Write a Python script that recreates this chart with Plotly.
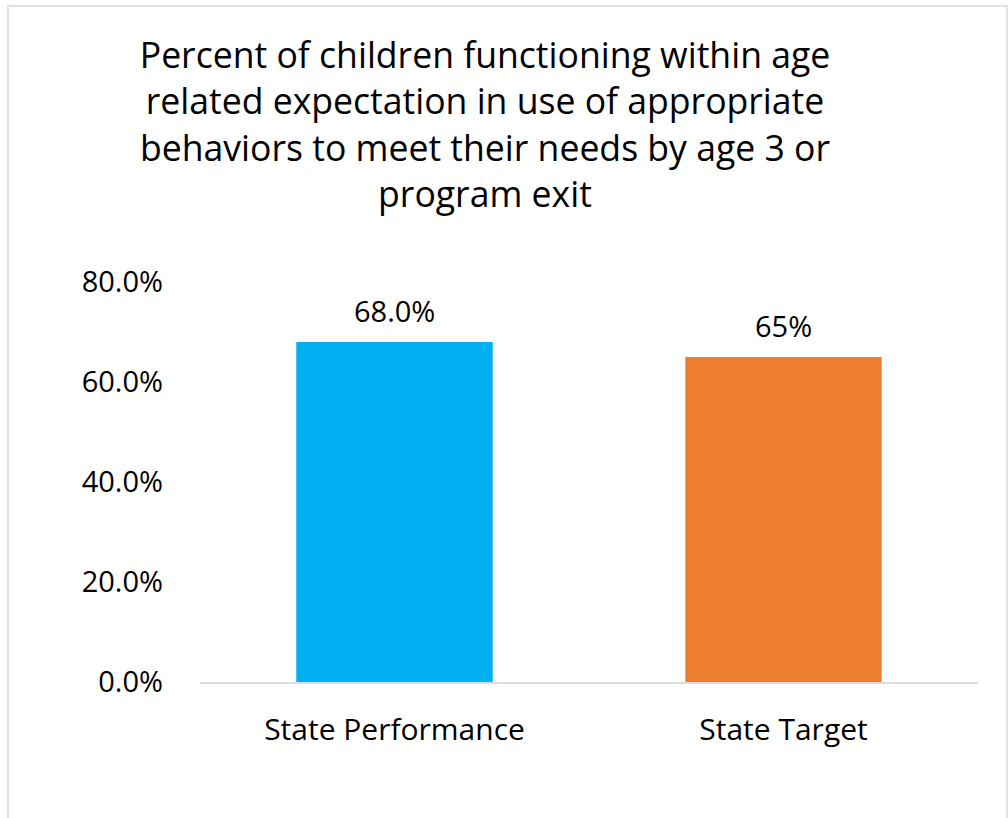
import plotly.graph_objects as go

categories = ["State Performance", "State Target"]
values = [0.68, 0.65]
value_labels = ["68.0%", "65%"]
bar_colors = ["#00B0F0", "#ED7D31"]
y_ticks = [0.0, 0.2, 0.4, 0.6, 0.8]
y_tick_labels = ["0.0%", "20.0%", "40.0%", "60.0%", "80.0%"]

title_text = ("Percent of children functioning within age<br>"
              "related expectation in use of appropriate<br>"
              "behaviors to meet their needs by age 3 or<br>"
              "program exit")

font_family = "Open Sans"

fig = go.Figure(
    go.Bar(
        x=categories,
        y=values,
        marker=dict(color=bar_colors, line=dict(width=0)),
        width=0.505,
        hoverinfo="skip",
    )
)

# value labels above the bars, a little further off than plotly's default
for cat, val, label in zip(categories, values, value_labels):
    fig.add_annotation(
        x=cat, y=val, text=label, showarrow=False,
        yanchor="bottom", yshift=10,
        font=dict(size=29, color="#000000", family=font_family),
    )

fig.update_layout(
    width=1008,
    height=818,
    paper_bgcolor="white",
    plot_bgcolor="white",
    font=dict(family=font_family, color="#000000"),
    margin=dict(l=200, r=30, t=282, b=136),
    title=dict(
        text=title_text,
        x=485 / 1008,
        xanchor="center",
        xref="container",
        y=1 - 68 / 818,
        yanchor="top",
        font=dict(size=35.6, family=font_family, color="#000000"),
    ),
    showlegend=False,
    shapes=[
        dict(
            type="rect",
            xref="paper", yref="paper",
            x0=(8 - 200) / 778, x1=(1007 - 200) / 778,
            y0=(682 - 840) / 400, y1=(682 - 6) / 400,
            line=dict(color="#DDE2E8", width=2),
            fillcolor="rgba(0,0,0,0)",
            layer="below",
        )
    ],
)

fig.update_yaxes(
    range=[0, 0.8],
    tickvals=y_ticks,
    ticktext=y_tick_labels,
    tickfont=dict(size=29),
    showgrid=False,
    zeroline=False,
    showline=False,
    ticks="",
    ticklabelstandoff=36,
)

fig.update_xaxes(
    showgrid=False,
    showline=True,
    linecolor="#D9DEE5",
    linewidth=2,
    tickfont=dict(size=30),
    ticks="",
    ticklabelstandoff=20,
)

fig.write_html(
    "out.html",
    config={"displayModeBar": False},
    post_script="document.body.style.margin='0px';",
)
